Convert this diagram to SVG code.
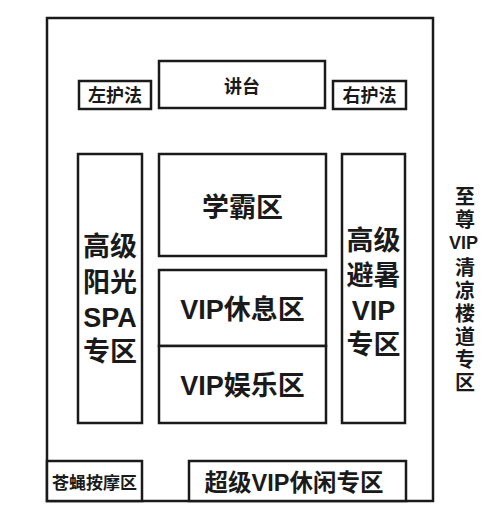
<svg xmlns="http://www.w3.org/2000/svg" width="500" height="522" viewBox="0 0 500 522">
<style>
rect{fill:#fff;stroke:#1a1a1a;stroke-width:2.5}
text{font-family:"Liberation Sans","Noto Sans CJK SC",sans-serif;font-weight:bold;fill:#1a1a1a;text-anchor:middle;dominant-baseline:central}
.v{writing-mode:vertical-rl;letter-spacing:3px}
</style>
<rect x="0" y="0" width="500" height="522" style="stroke:none"/>
<g id="hall"><rect x="47" y="18" width="386" height="483"/></g>
<g id="podium"><rect x="159" y="61" width="166" height="47"/><text x="242" y="87" font-size="18">讲台</text></g>
<g id="left-guard"><rect x="79" y="81" width="72" height="28"/><text x="115" y="96" font-size="18">左护法</text></g>
<g id="right-guard"><rect x="333" y="81" width="73" height="28"/><text x="369.5" y="96" font-size="18">右护法</text></g>
<g id="spa"><rect x="78" y="154" width="64" height="269"/>
<text font-size="27"><tspan x="110" y="247">高级</tspan><tspan x="110" y="283">阳光</tspan><tspan x="110" y="318">SPA</tspan><tspan x="110" y="352">专区</tspan></text></g>
<g id="xueba"><rect x="159" y="154" width="167" height="102"/><text x="242.5" y="208" font-size="27">学霸区</text></g>
<g id="vip-rest"><rect x="159" y="270" width="167" height="76"/><text x="242.5" y="310" font-size="27">VIP休息区</text></g>
<g id="vip-fun"><rect x="159" y="346" width="167" height="77"/><text x="242.5" y="386" font-size="27">VIP娱乐区</text></g>
<g id="summer"><rect x="342" y="154" width="63" height="269"/>
<text font-size="27"><tspan x="373.5" y="241">高级</tspan><tspan x="373.5" y="276">避暑</tspan><tspan x="373.5" y="311">VIP</tspan><tspan x="373.5" y="345">专区</tspan></text></g>
<g id="stairs">
<text class="v" x="463.5" y="209" font-size="20">至尊</text>
<text x="463.5" y="243" font-size="18">VIP</text>
<text class="v" x="463.5" y="326" font-size="20">清凉楼道专区</text></g>
<g id="massage"><rect x="47" y="461" width="95" height="40"/><text x="94.5" y="483" font-size="17">苍蝇按摩区</text></g>
<g id="super-vip"><rect x="189" y="461" width="217" height="40"/><text x="294" y="483" font-size="23.5">超级VIP休闲专区</text></g>
<g id="connectors"></g>
</svg>
